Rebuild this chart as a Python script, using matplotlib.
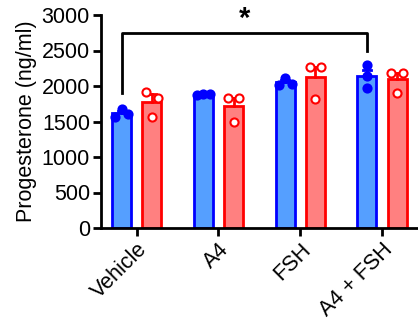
import numpy as np
import matplotlib
matplotlib.use("Agg")
import matplotlib.pyplot as plt

plt.rcParams["font.family"] = ["Liberation Sans", "DejaVu Sans"]

# 데이터
groups = ["Vehicle", "A4", "FSH", "A4 + FSH"]
blue_pts = [
    [1568, 1672, 1601],
    [1880, 1892, 1885],
    [2014, 2117, 2028],
    [2296, 2141, 1968],
]
red_pts = [
    [1920, 1835, 1568],
    [1835, 1835, 1497],
    [2272, 2272, 1817],
    [2188, 2188, 1906],
]
yticks = [0, 500, 1000, 1500, 2000, 2500, 3000]
sig_y = 2740

blue_fill, blue_edge = "#559fff", "#0000ff"
red_fill, red_edge = "#ff8080", "#ff0000"

fig = plt.figure(figsize=(4.18, 3.27), dpi=100)
ax = fig.add_axes([101 / 418, 99 / 327, 317 / 418, 213 / 327])

x = np.arange(len(groups))
off, w = 0.185, 0.23
# 점 흩뿌리기 (그룹별)
blue_jit = [[-0.08, 0, 0.08]] * 3 + [[0, 0, 0]]
red_jit = [[-0.07, 0.07, 0]] * 4


def draw(pos, pts, jits, fill, edge, open_dots):
    for xi, p, j in zip(pos, pts, jits):
        p = np.array(p, dtype=float)
        m = p.mean()
        sem = p.std(ddof=1) / np.sqrt(len(p))
        ax.bar(xi, m, width=w, color=fill, edgecolor=edge, linewidth=2, zorder=2)
        ax.plot([xi, xi], [m, m + sem], color=edge, lw=2, zorder=3)
        ax.plot([xi - 0.05, xi + 0.05], [m + sem] * 2, color=edge, lw=2, zorder=3)
        ax.scatter(xi + np.array(j), p, s=34, zorder=4,
                   facecolor="white" if open_dots else edge,
                   edgecolor=edge, linewidth=1.5, clip_on=False)


draw(x - off, blue_pts, blue_jit, blue_fill, blue_edge, False)
draw(x + off, red_pts, red_jit, red_fill, red_edge, True)

# 유의성 표시
x0, x1 = x[0] - off, x[3] - off
ax.plot([x0, x0, x1, x1], [1900, sig_y, sig_y, 2500], color="black", lw=2,
        clip_on=False, zorder=5)
ax.text((x0 + x1) / 2, sig_y + 10, "*", ha="center", va="bottom",
        fontsize=21, fontweight="bold", clip_on=False)

ax.set_xlim(-0.437, 3.44)
ax.set_ylim(0, 3000)
ax.set_yticks(yticks)
ax.set_xticks(x)
ax.set_xticklabels(groups, rotation=45, ha="right", rotation_mode="anchor")
ax.set_ylabel("Progesterone (ng/ml)", fontsize=15.5, labelpad=3)
ax.tick_params(labelsize=15.5, width=2, length=6, direction="out", pad=2)
for s in ["top", "right"]:
    ax.spines[s].set_visible(False)
for s in ["left", "bottom"]:
    ax.spines[s].set_linewidth(2)

fig.savefig("out.png", dpi=100)
